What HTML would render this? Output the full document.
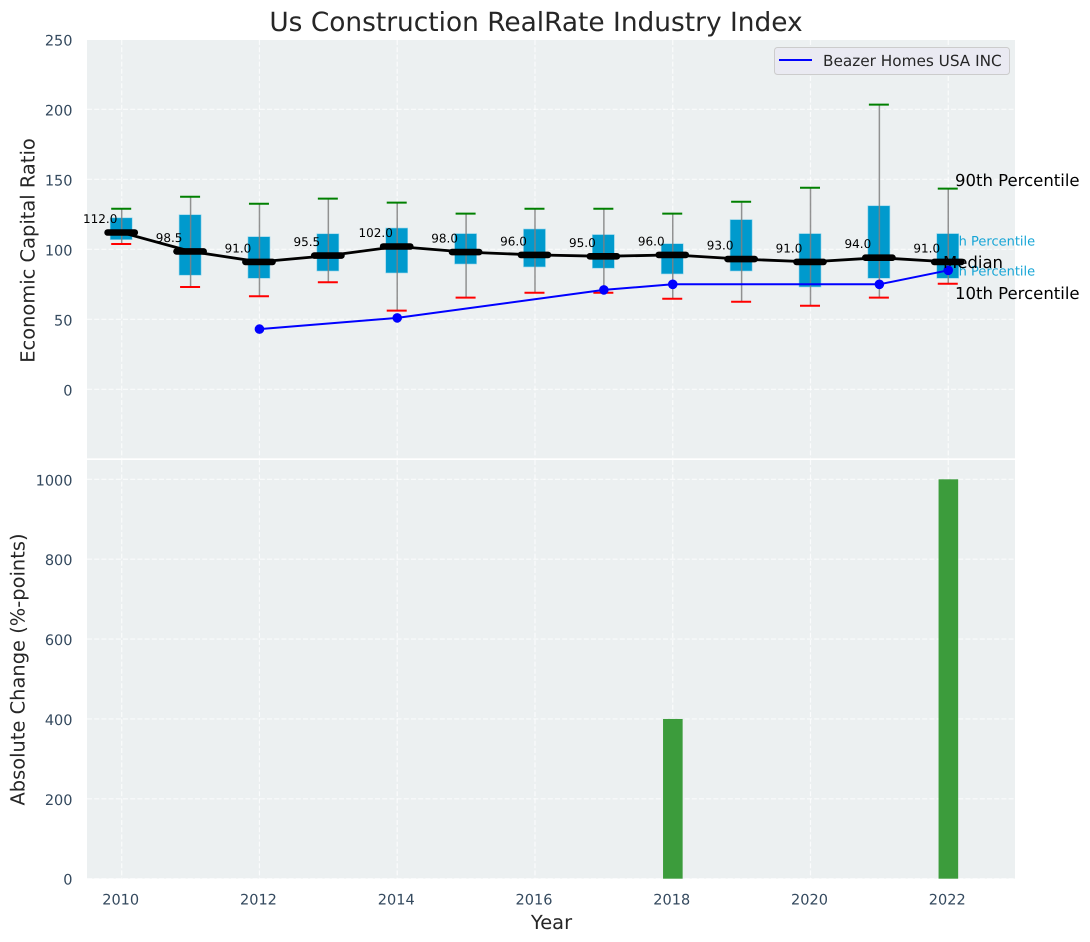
<!DOCTYPE html>
<html>
<head>
<meta charset="utf-8">
<title>Us Construction RealRate Industry Index</title>
<style>
html,body{margin:0;padding:0;background:#fff;width:1090px;height:942px;overflow:hidden}
svg{display:block}
text{font-family:"DejaVu Sans","Liberation Sans",sans-serif;text-rendering:geometricPrecision}
</style>
</head>
<body>
<svg id="chart" xmlns="http://www.w3.org/2000/svg" width="1090" height="942" viewBox="0 0 1090 942">
  <rect x="87" y="40" width="928" height="418.3" fill="#ecf0f1"/>
  <rect x="87" y="460" width="928" height="418.6" fill="#ecf0f1"/>
  <g id="grid"></g>
  <g id="percentile-notes"></g>
  <g id="boxes"></g>
  <g id="median-series"></g>
  <g id="company-series"></g>
  <g id="change-bars"></g>
  <g id="ticks"></g>
  <text x="536" y="31" text-anchor="middle" font-size="26.4" fill="#262626">Us Construction RealRate Industry Index</text>
  <text transform="translate(34.5 250.5) rotate(-90)" text-anchor="middle" font-size="19.44" fill="#262626">Economic Capital Ratio</text>
  <text transform="translate(24.5 669.5) rotate(-90)" text-anchor="middle" font-size="19.44" fill="#262626">Absolute Change (%-points)</text>
  <text x="551.5" y="929" text-anchor="middle" font-size="19.44" fill="#262626">Year</text>
  <g>
    <rect x="774.5" y="47.5" width="235" height="27" rx="3" fill="#eaeaf2" stroke="#cccccc" stroke-width="1"/>
    <line x1="779" x2="812" y1="60" y2="60" stroke="#0000ff" stroke-width="2"/>
    <text x="823" y="66" font-size="15.28" fill="#262626">Beazer Homes USA INC</text>
  </g>
  <g id="end-notes">
    <text x="955" y="186" font-size="16.5" fill="#000">90th Percentile</text>
    <text x="943" y="268" font-size="16.5" fill="#000">Median</text>
    <text x="955" y="299" font-size="16.5" fill="#000">10th Percentile</text>
  </g>
</svg>
<script>
const years = [2010,2011,2012,2013,2014,2015,2016,2017,2018,2019,2020,2021,2022];
const p90 = [129,137.5,132.5,136.2,133.3,125.5,129,129,125.5,134,144,203.3,143.3];
const p75 = [122.5,124.7,109,111.1,115.2,111.2,114.5,110.5,104,121.2,111.2,131.1,111.2];
const medians = [112,98.5,91,95.5,102,98,96,95,96,93,91,94,91];
const p25 = [106.9,81.5,79.3,84.5,83.1,89.5,87.4,86.5,82.4,84.5,73.1,79.3,79.3];
const p10 = [103.8,73.1,66.5,76.5,56.2,65.5,69,69,64.7,62.5,59.7,65.5,75.4];
const medianLabels = ["112.0","98.5","91.0","95.5","102.0","98.0","96.0","95.0","96.0","93.0","91.0","94.0","91.0"];
const companyYears = [2012,2014,2017,2018,2021,2022];
const companyValues = [43,51,71,75,75,85];
const changeYears = [2018,2022];
const changeValues = [400,1000];
const xTicks = [2010,2012,2014,2016,2018,2020,2022];
const upperTicks = [0,50,100,150,200,250];
const lowerTicks = [0,200,400,600,800,1000];

const NS = 'http://www.w3.org/2000/svg';
const xScale = v => 121.7 + (v - 2010) * 68.88;
const upperY = v => 389.3 - v * 1.4;
const lowerY = v => 878.7 - v * 0.3994;

function make(tag, parent, props, content) {
  const el = document.createElementNS(NS, tag);
  for (const k in props) el.setAttribute(k, props[k]);
  if (content !== undefined) el.textContent = content;
  document.getElementById(parent).appendChild(el);
  return el;
}
const gridStyle = {stroke:'#ffffff','stroke-width':1.2,'stroke-dasharray':'5 2.2','stroke-opacity':0.75,fill:'none'};

xTicks.forEach(t => {
  const a = make('line','grid',Object.assign({x1:xScale(t),x2:xScale(t),y1:40,y2:458.3},gridStyle));
  
  
  const b = make('line','grid',Object.assign({x1:xScale(t),x2:xScale(t),y1:460,y2:878.6},gridStyle));
  
  
  const l = make('text','ticks',{x:xScale(t)-1,y:904.5,'text-anchor':'middle','font-size':14.5,fill:'#34495e'},String(t));
  
  
});
upperTicks.forEach(t => {
  const g = make('line','grid',Object.assign({x1:87,x2:1015,y1:upperY(t),y2:upperY(t)},gridStyle));
  
  
  const l = make('text','ticks',{x:72.5,y:upperY(t)+6,'text-anchor':'end','font-size':14.5,fill:'#34495e'},String(t));
  
  
});
lowerTicks.forEach(t => {
  const g = make('line','grid',Object.assign({x1:87,x2:1015,y1:lowerY(t),y2:lowerY(t)},gridStyle));
  
  
  const l = make('text','ticks',{x:72.5,y:lowerY(t)+6,'text-anchor':'end','font-size':14.5,fill:'#34495e'},String(t));
  
  
});

const note75 = make('text','percentile-notes',{x:937,y:245.5,'font-size':13,fill:'#16a5d6'},'75th Percentile');


const note25 = make('text','percentile-notes',{x:937,y:275.5,'font-size':13,fill:'#16a5d6'},'25th Percentile');



years.forEach((yr, i) => {
  const cx = xScale(yr);
  const box = make('rect','boxes',{x:cx-11.5,y:upperY(p75[i]),width:22,height:upperY(p25[i])-upperY(p75[i]),fill:'#009acd',stroke:'#8fd3ea','stroke-width':0.6});
  
  
  const whisker = make('line','boxes',{x1:cx,x2:cx,y1:upperY(p90[i]),y2:upperY(p10[i]),stroke:'#808080','stroke-width':1.5,'stroke-opacity':0.85});
  
  
  const hi = make('line','boxes',{x1:cx-10.5,x2:cx+9.5,y1:upperY(p90[i]),y2:upperY(p90[i]),stroke:'#008000','stroke-width':2});
  
  
  const lo = make('line','boxes',{x1:cx-10.5,x2:cx+9.5,y1:upperY(p10[i]),y2:upperY(p10[i]),stroke:'#ff0000','stroke-width':2});
  
  
});

const medianLine = make('polyline','median-series',{points:years.map((yr,i)=>xScale(yr)+','+upperY(medians[i])).join(' '),fill:'none',stroke:'#000','stroke-width':2.8,'stroke-linejoin':'round'});


years.forEach((yr, i) => {
  const cx = xScale(yr) - 0.5, cy = upperY(medians[i]);
  const seg = make('line','median-series',{x1:cx-13.6,x2:cx+13.6,y1:cy,y2:cy,stroke:'#000','stroke-width':6.6,'stroke-linecap':'round'});
  
  
  const txt = make('text','median-series',{x:cx-21,y:cy-9.5,'text-anchor':'middle','font-size':12,fill:'#000'},medianLabels[i]);
  
  
});

const companyLine = make('polyline','company-series',{points:companyYears.map((yr,i)=>xScale(yr)+','+upperY(companyValues[i])).join(' '),fill:'none',stroke:'#0000ff','stroke-width':2});


companyYears.forEach((yr, i) => {
  const pt = make('circle','company-series',{cx:xScale(yr),cy:upperY(companyValues[i]),r:4.8,fill:'#0000ff'});
  
  
});

changeYears.forEach((yr, i) => {
  const bar = make('rect','change-bars',{x:xScale(yr)-9.7,y:lowerY(changeValues[i]),width:19.6,height:lowerY(0)-lowerY(changeValues[i]),fill:'#3c9c3c'});
  
  
});
</script>
</body>
</html>
